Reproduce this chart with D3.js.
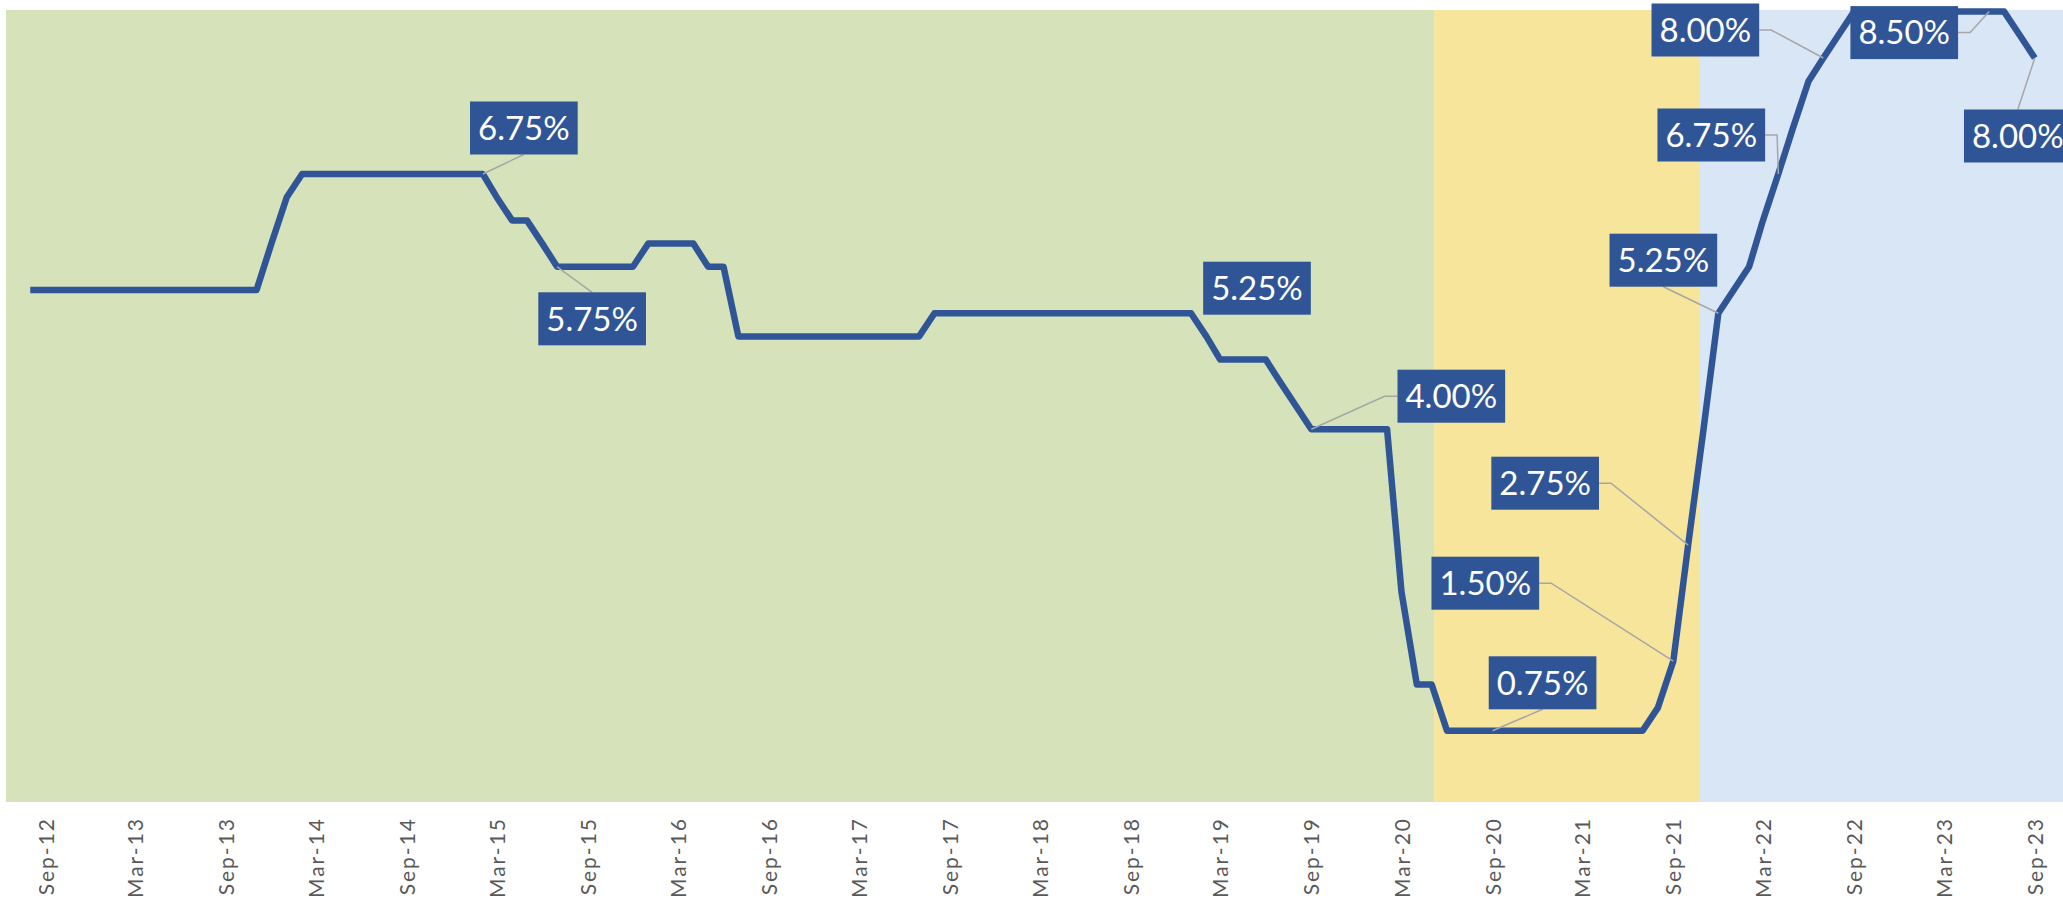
<!DOCTYPE html>
<html>
<head>
<meta charset="utf-8">
<script src="https://cdn.jsdelivr.net/npm/d3@7"></script>
<style>
  html, body { margin: 0; padding: 0; background: #fff; }
  svg { display: block; font-family: Lato, "Noto Sans", sans-serif; }
</style>
</head>
<body>
<svg id="chart" width="2063" height="900"></svg>
<script>
// policy rate, monthly, starting Aug-12 (percent)
const firstMonth = "2012-08";
const rates = [
  5.5, 5.5, 5.5, 5.5, 5.5, 5.5, 5.5, 5.5, 5.5, 5.5, 5.5, 5.5, 5.5, 5.5, 5.5, 5.5,
  6.0, 6.5, 6.75,
  6.75, 6.75, 6.75, 6.75, 6.75, 6.75, 6.75, 6.75, 6.75, 6.75, 6.75, 6.75,
  6.5, 6.25, 6.25, 6.0, 5.75,
  5.75, 5.75, 5.75, 5.75, 5.75,
  6.0, 6.0, 6.0, 6.0,
  5.75, 5.75,
  5.0, 5.0, 5.0, 5.0, 5.0, 5.0, 5.0, 5.0, 5.0, 5.0, 5.0, 5.0, 5.0,
  5.25, 5.25, 5.25, 5.25, 5.25, 5.25, 5.25, 5.25, 5.25, 5.25, 5.25, 5.25, 5.25, 5.25, 5.25, 5.25, 5.25, 5.25,
  5.0,
  4.75, 4.75, 4.75, 4.75,
  4.5, 4.25,
  4.0, 4.0, 4.0, 4.0, 4.0, 4.0,
  2.25,
  1.25, 1.25,
  0.75, 0.75, 0.75, 0.75, 0.75, 0.75, 0.75, 0.75, 0.75, 0.75, 0.75, 0.75, 0.75, 0.75,
  1.0, 1.5, 2.75, 4.0, 5.25,
  5.5, 5.75, 6.25, 6.75, 7.25, 7.75, 8.0, 8.25,
  8.5, 8.5, 8.5, 8.5, 8.5, 8.5, 8.5, 8.5, 8.5, 8.5, 8.5,
  8.25, 8.0
];

const tickLabels = [
  "Sep-12", "Mar-13", "Sep-13", "Mar-14", "Sep-14", "Mar-15", "Sep-15", "Mar-16",
  "Sep-16", "Mar-17", "Sep-17", "Mar-18", "Sep-18", "Mar-19", "Sep-19", "Mar-20",
  "Sep-20", "Mar-21", "Sep-21", "Mar-22", "Sep-22", "Mar-23", "Sep-23"
];

// shaded periods: before the cuts, the low-rate period, the hikes
const periodNames = ["pre-pandemic", "pandemic", "tightening"];
const periodBreaks = ["2020-05-06", "2021-10-25"];
const periodColors = ["#d6e2b9", "#f7e59c", "#d9e6f5"];

// points that carry a data label
const labelMonths = [
  "2015-02", "2015-07", "2019-01", "2019-09", "2020-09", "2021-09",
  "2021-10", "2021-12", "2022-04", "2022-07", "2023-06", "2023-09"
];

// where each label box sits relative to its point, and how its leader is drawn
const labelLayout = [
  { dx: 41, dy: -46, leader: "bottom" },
  { dx: 35, dy: 52, leader: "top" },
  { dx: 66, dy: -25, leader: "none" },
  { dx: 140, dy: -33, leader: "left" },
  { dx: 50, dy: -48, leader: "bottom" },
  { dx: -188, dy: -78, leader: "right" },
  { dx: -143, dy: -62, leader: "right" },
  { dx: -55, dy: -53, leader: "bottom" },
  { dx: -67, dy: -39, leader: "right" },
  { dx: -118, dy: -28, leader: "right" },
  { dx: -85, dy: 21, leader: "right" },
  { dx: -17, dy: 78, leader: "top" }
];

const plot = { left: 6, right: 2063, top: 10, bottom: 802 };
const lineColor = "#2f5597";

const parseMonth = d3.timeParse("%Y-%m");
const parseDay = d3.timeParse("%Y-%m-%d");
const parseTick = d3.timeParse("%b-%y");

const start = parseMonth(firstMonth);
const series = rates.map((v, i) => ({ date: d3.timeMonth.offset(start, i), value: v }));

const x = d3.scaleTime()
  .domain([parseTick("Sep-12"), parseTick("Sep-23")])
  .range([45.6, 2034.8]);

const y = d3.scaleLinear()
  .domain([0, 8.5])
  .range([800.4, 11.6]);

const svg = d3.select("#chart");

// background bands
const edges = [x.invert(plot.left), ...periodBreaks.map(parseDay), x.invert(plot.right)];
const bands = periodNames.map((name, i) => ({ name, from: edges[i], to: edges[i + 1], color: periodColors[i] }));

svg.append("g")
  .selectAll("rect")
  .data(bands)
  .join("rect")
  .attr("x", d => x(d.from))
  .attr("y", plot.top)
  .attr("width", d => x(d.to) - x(d.from))
  .attr("height", plot.bottom - plot.top)
  .attr("fill", d => d.color);

// x axis, labels rotated
const xAxis = d3.axisBottom(x)
  .tickValues(tickLabels.map(parseTick))
  .tickFormat(d3.timeFormat("%b-%y"))
  .tickSize(0);

const axisG = svg.append("g")
  .attr("transform", `translate(0,${plot.bottom + 15})`)
  .call(xAxis);

axisG.select(".domain").remove();
axisG.selectAll("text")
  .attr("transform", "rotate(-90)")
  .attr("x", 0)
  .attr("y", 0)
  .attr("dy", "0.36em")
  .attr("text-anchor", "end")
  .attr("fill", "#595959")
  .style("font-family", "Lato, 'Noto Sans', sans-serif")
  .style("font-size", "21px")
  .style("letter-spacing", "2px");

// the rate line
const line = d3.line()
  .x(d => x(d.date))
  .y(d => y(d.value));

svg.append("path")
  .datum(series)
  .attr("d", line)
  .attr("fill", "none")
  .attr("stroke", lineColor)
  .attr("stroke-width", 6.5)
  .attr("stroke-linejoin", "round")
  .attr("stroke-linecap", "butt");

// data labels
const labelled = labelMonths.map((m, i) => {
  const p = series.find(d => +d.date === +parseMonth(m));
  return { ...p, ...labelLayout[i] };
});

const boxH = 53;
const leaderG = svg.append("g");
const labelG = svg.append("g");

labelled.forEach(d => {
  const px = x(d.date), py = y(d.value);
  const cx = px + d.dx, cy = py + d.dy;

  const g = labelG.append("g");
  const rect = g.append("rect").attr("fill", lineColor);
  const txt = g.append("text")
    .attr("x", cx)
    .attr("y", cy)
    .attr("dy", "0.36em")
    .attr("text-anchor", "middle")
    .attr("fill", "#fff")
    .style("font-size", "33px")
    .text(d3.format(".2f")(d.value) + "%");

  const w = txt.node().getComputedTextLength() + 16;
  rect.attr("x", cx - w / 2).attr("y", cy - boxH / 2).attr("width", w).attr("height", boxH);

  let pts = null;
  if (d.leader === "bottom") pts = [[cx, cy + boxH / 2], [px, py]];
  if (d.leader === "top") pts = [[cx, cy - boxH / 2], [px, py]];
  if (d.leader === "right") pts = [[cx + w / 2, cy], [cx + w / 2 + 12, cy], [px, py]];
  if (d.leader === "left") pts = [[cx - w / 2, cy], [cx - w / 2 - 13, cy], [px, py]];
  if (pts) {
    leaderG.append("path")
      .attr("d", d3.line()(pts))
      .attr("fill", "none")
      .attr("stroke", "#a6a6a6")
      .attr("stroke-width", 1.5);
  }
});
</script>
</body>
</html>
